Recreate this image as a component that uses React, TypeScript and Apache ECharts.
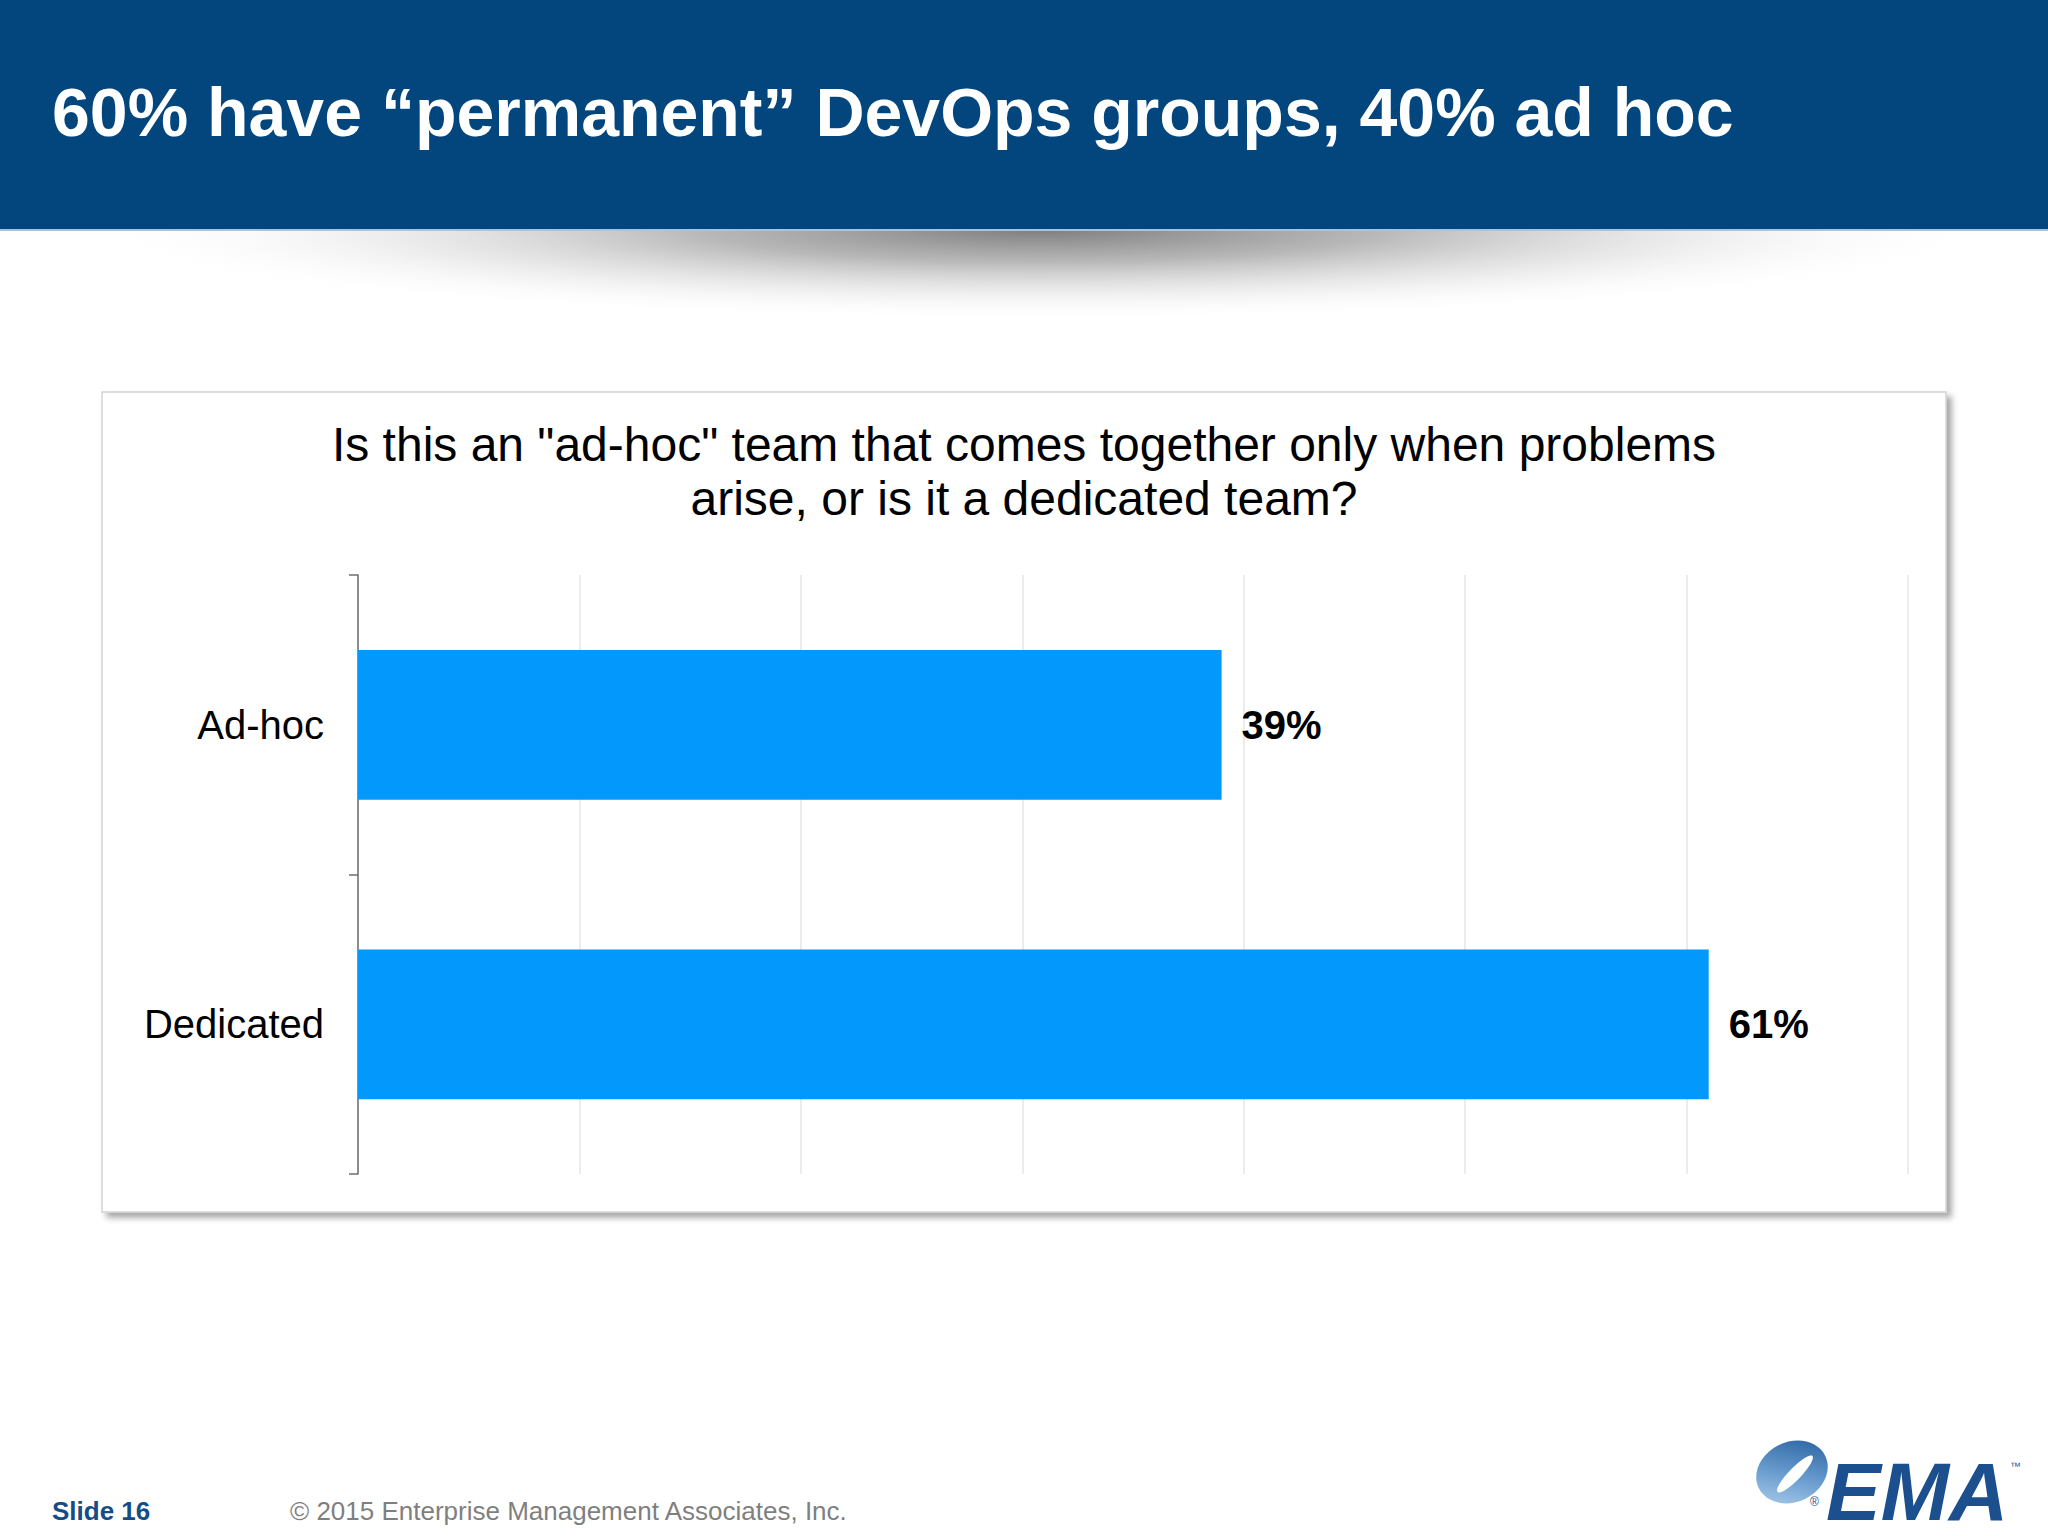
import React, { useEffect, useRef } from "react";
import * as echarts from "echarts";

const categories = ["Ad-hoc", "Dedicated"];
const values = [39, 61];
const headerTitle = "60% have \u201cpermanent\u201d DevOps groups, 40% ad hoc";
const chartTitle =
  'Is this an "ad-hoc" team that comes together only when problems\narise, or is it a dedicated team?';
const footerSlide = "Slide 16";
const footerCopy = "\u00a9 2015 Enterprise Management Associates, Inc.";

const FONT = "'Liberation Sans', Arial, Helvetica, sans-serif";

export default function App() {
  const ref = useRef<HTMLDivElement>(null);
  useEffect(() => {
    if (!ref.current) return;
    const chart = echarts.init(ref.current, undefined, { renderer: "svg" });
    chart.setOption({
      animation: false,
      backgroundColor: "#ffffff",
      title: {
        text: chartTitle,
        left: "center",
        top: 412,
        textStyle: {
          fontFamily: FONT,
          fontSize: 48,
          fontWeight: "normal",
          lineHeight: 54,
          color: "#000000",
        },
      },
      grid: { left: 358, top: 575, width: 1550, height: 599, containLabel: false },
      xAxis: {
        type: "value",
        min: 0,
        max: 70,
        interval: 10,
        axisLabel: { show: false },
        axisLine: { show: false },
        axisTick: { show: false },
        splitLine: { show: true, lineStyle: { color: "#e6e6e6", width: 1.5 } },
      },
      yAxis: {
        type: "category",
        data: categories,
        inverse: true,
        axisLine: { show: true, lineStyle: { color: "#6e6e6e", width: 1.5 } },
        axisTick: { show: true, length: 9, lineStyle: { color: "#6e6e6e", width: 1.5 } },
        axisLabel: {
          margin: 34,
          fontFamily: FONT,
          fontSize: 40,
          color: "#000000",
        },
      },
      series: [
        {
          type: "bar",
          data: values,
          barWidth: "50%",
          itemStyle: { color: "#0398fc" },
          label: {
            show: true,
            position: "right",
            distance: 20,
            formatter: "{c}%",
            fontFamily: FONT,
            fontSize: 40,
            fontWeight: "bold",
            color: "#000000",
          },
        },
      ],
      graphic: [
        // header band
        {
          type: "rect",
          z: -10,
          shape: { x: 0, y: 0, width: 2048, height: 229 },
          style: { fill: "#02467d" },
        },
        // header shadow
        {
          type: "group",
          x: 1040,
          y: 230,
          scaleY: 0.095,
          z: -10,
          children: [
            {
              type: "rect",
              z: -10,
              shape: { x: -960, y: 0, width: 1920, height: 1920 },
              style: {
                fill: new echarts.graphic.RadialGradient(0.5, 0, 0.5, [
                  { offset: 0, color: "rgba(115,115,115,0.92)" },
                  { offset: 0.35, color: "rgba(140,140,140,0.62)" },
                  { offset: 0.7, color: "rgba(190,190,190,0.25)" },
                  { offset: 1, color: "rgba(255,255,255,0)" },
                ]),
              },
            },
          ],
        },
        {
          type: "rect",
          z: -9,
          shape: { x: 0, y: 229, width: 2048, height: 2 },
          style: { fill: "#a8c3dc" },
        },
        {
          type: "text",
          x: 52,
          y: 112,
          style: {
            text: headerTitle,
            fill: "#ffffff",
            font: `bold 68px ${FONT}`,
            verticalAlign: "middle",
            align: "left",
          },
        },
        // chart box
        {
          type: "rect",
          z: -10,
          shape: { x: 102, y: 392, width: 1844, height: 820 },
          style: {
            fill: "#ffffff",
            stroke: "#d4d4d4",
            lineWidth: 1.5,
            shadowBlur: 6,
            shadowOffsetX: 5,
            shadowOffsetY: 5,
            shadowColor: "rgba(0,0,0,0.35)",
          },
        },
        // footer
        {
          type: "text",
          x: 52,
          y: 1511,
          style: {
            text: footerSlide,
            fill: "#164c86",
            font: `bold 26px ${FONT}`,
            verticalAlign: "middle",
          },
        },
        {
          type: "text",
          x: 290,
          y: 1511,
          style: {
            text: footerCopy,
            fill: "#7f7f7f",
            font: `26px ${FONT}`,
            verticalAlign: "middle",
          },
        },
        // EMA logo
        {
          type: "ellipse",
          x: 1792,
          y: 1472,
          rotation: 0.45,
          shape: { cx: 0, cy: 0, rx: 37, ry: 30 },
          style: {
            fill: new echarts.graphic.LinearGradient(0, 1, 1, 0, [
              { offset: 0, color: "#b3d3ee" },
              { offset: 0.45, color: "#6a9dcf" },
              { offset: 1, color: "#1f5a9a" },
            ]),
          },
        },
        {
          type: "ellipse",
          x: 1795,
          y: 1474,
          rotation: 0.8,
          shape: { cx: 0, cy: 0, rx: 25, ry: 6 },
          style: { fill: "#ffffff" },
        },
        {
          type: "text",
          x: 1826,
          y: 1491,
          style: {
            text: "EMA",
            fill: "#1c4f8e",
            font: `italic 900 82px ${FONT}`,
            verticalAlign: "middle",
          },
        },
        {
          type: "text",
          x: 1810,
          y: 1502,
          style: { text: "\u00ae", fill: "#1c4f8e", font: `12px ${FONT}`, verticalAlign: "middle" },
        },
        {
          type: "text",
          x: 2010,
          y: 1466,
          style: { text: "\u2122", fill: "#1c4f8e", font: `11px ${FONT}`, verticalAlign: "middle" },
        },
      ],
    });
    return () => chart.dispose();
  }, []);
  return (
    <div
      ref={ref}
      style={{ position: "absolute", left: 0, top: 0, width: 2048, height: 1536, background: "#fff" }}
    />
  );
}
